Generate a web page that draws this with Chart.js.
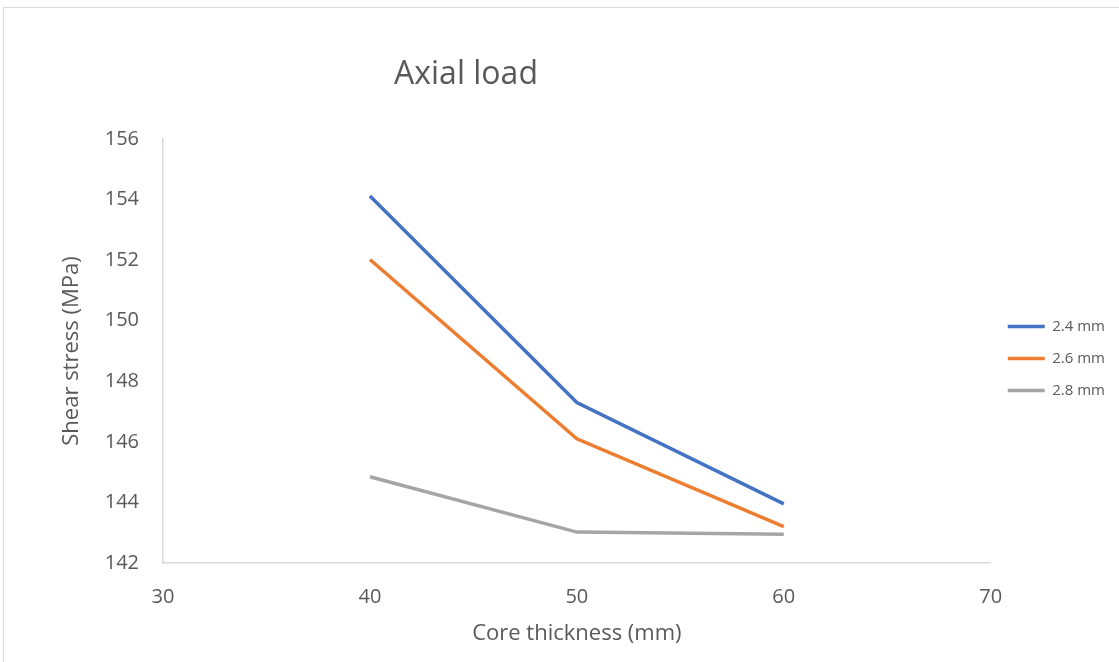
<!DOCTYPE html>
<html>
<head>
<meta charset="utf-8">
<script src="https://cdn.jsdelivr.net/npm/chart.js@4.4.0/dist/chart.umd.min.js"></script>
<style>
    html, body { margin: 0; padding: 0; background: #ffffff; }
    #frame {
        position: absolute; left: 3px; top: 7px; width: 1200px; height: 700px;
        border-left: 1px solid #d9d9d9; border-top: 1px solid #d9d9d9;
    }
    #wrap { position: absolute; left: 0; top: 0; width: 1119px; height: 662px; }
</style>
</head>
<body>
<div id="frame"></div>
<div id="wrap"><canvas id="chart" width="1119" height="662"></canvas></div>
<script>
// Core thickness (mm) on the x axis
const coreThickness = [40, 50, 60];

// Shear stress (MPa) per face thickness
const stress24 = [154.12, 147.30, 143.95];
const stress26 = [152.02, 146.10, 143.20];
const stress28 = [144.85, 143.02, 142.95];

const seriesLabels = ['2.4 mm', '2.6 mm', '2.8 mm'];
const seriesColors = ['#4472C4', '#ED7D31', '#A5A5A5'];

const xTicks = [30, 40, 50, 60, 70];
const yTicks = [142, 144, 146, 148, 150, 152, 154, 156];

const FONT = "'Open Sans', 'Noto Sans', sans-serif";
const TEXT = '#595959';
const AXIS = '#d9d9d9';

function toPoints(values) {
    return coreThickness.map((x, i) => ({ x: x, y: values[i] }));
}

const datasets = [stress24, stress26, stress28].map((values, i) => ({
    label: seriesLabels[i],
    data: toPoints(values),
    borderColor: seriesColors[i],
    backgroundColor: seriesColors[i],
    borderWidth: 3.5,
    pointRadius: 0,
    tension: 0,
    fill: false
}));

// Title sits left of centre like the original, draw it by hand
const titlePlugin = {
    id: 'offsetTitle',
    afterDraw(chart) {
        const ctx = chart.ctx;
        ctx.save();
        ctx.font = "32px " + FONT;
        ctx.fillStyle = TEXT;
        ctx.textAlign = 'center';
        ctx.textBaseline = 'middle';
        ctx.fillText('Axial load', 466, 75);
        ctx.restore();
    }
};

new Chart(document.getElementById('chart'), {
    type: 'line',
    data: { datasets: datasets },
    plugins: [titlePlugin],
    options: {
        responsive: false,
        animation: false,
        layout: { padding: { left: 59, top: 139, right: 4, bottom: 15 } },
        plugins: {
            title: { display: false },
            tooltip: { enabled: false },
            legend: {
                position: 'right',
                fullSize: false,
                title: { display: true, text: ' ', font: { size: 1 }, padding: { top: 7, bottom: 7 } },
                labels: {
                    usePointStyle: true,
                    pointStyle: 'line',
                    pointStyleWidth: 37,
                    padding: 17,
                    color: TEXT,
                    font: { size: 15, family: FONT }
                }
            }
        },
        scales: {
            x: {
                type: 'linear',
                min: 30,
                max: 70,
                afterBuildTicks: scale => { scale.ticks = xTicks.map(v => ({ value: v })); },
                afterFit: scale => { scale.height = 84; },
                grid: { display: false, drawTicks: false },
                border: { color: AXIS, width: 1.5 },
                ticks: { color: TEXT, padding: 22, font: { size: 20, family: FONT } },
                title: {
                    display: true,
                    text: 'Core thickness (mm)',
                    color: TEXT,
                    font: { size: 22, family: FONT },
                    padding: { top: 12, bottom: 0 }
                }
            },
            y: {
                min: 142,
                max: 156,
                afterBuildTicks: scale => { scale.ticks = yTicks.map(v => ({ value: v })); },
                afterFit: scale => { scale.width = 104; },
                grid: { display: false, drawTicks: false },
                border: { color: AXIS, width: 1.5 },
                ticks: { color: TEXT, padding: 24, font: { size: 20, family: FONT } },
                title: {
                    display: true,
                    text: 'Shear stress (MPa)',
                    color: TEXT,
                    font: { size: 22, family: FONT },
                    padding: { top: 0, bottom: 0 }
                }
            }
        }
    }
});
</script>
</body>
</html>
